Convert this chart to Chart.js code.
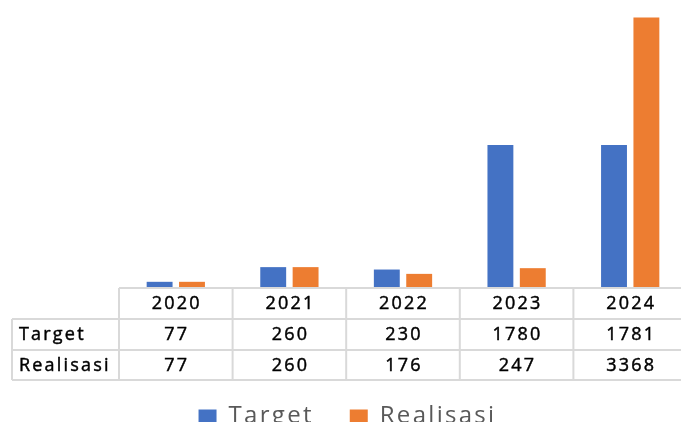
<!DOCTYPE html>
<html>
<head>
<meta charset="utf-8">
<script src="https://cdn.jsdelivr.net/npm/chart.js@4.4.1/dist/chart.umd.min.js"></script>
<style>
  html, body { margin: 0; padding: 0; background: #fff; overflow: hidden; }
  #wrap { position: absolute; left: 0; top: 0; width: 687px; height: 438px; }
</style>
</head>
<body>
<div id="wrap"><canvas id="c"></canvas></div>
<script>
const categories = ['2020', '2021', '2022', '2023', '2024'];
const seriesNames = ['Target', 'Realisasi'];
const targetValues = [77, 260, 230, 1780, 1781];
const realisasiValues = [77, 260, 176, 247, 3368];
const yMax = 3500;

const tablePlugin = {
  id: 'dataTable',
  beforeLayout(chart) { chart.ctx.letterSpacing = '2.3px'; },
  beforeDraw(chart) { chart.ctx.letterSpacing = '2.3px'; },
  afterDraw(chart) {
    const ctx = chart.ctx;
    const xs = chart.scales.x;
    const area = chart.chartArea;
    const n = categories.length;
    const cw = (xs.right - xs.left) / n;
    const y0 = area.bottom, y1 = y0 + 31, y2 = y0 + 62, y3 = y0 + 92;
    const labelLeft = 12;
    ctx.save();
    ctx.strokeStyle = '#d9d9d9';
    ctx.lineWidth = 2;
    ctx.beginPath();
    ctx.moveTo(xs.left, y0); ctx.lineTo(xs.right, y0);
    [y1, y2, y3].forEach(y => { ctx.moveTo(labelLeft, y); ctx.lineTo(xs.right, y); });
    ctx.moveTo(labelLeft, y1); ctx.lineTo(labelLeft, y3);
    for (let i = 0; i <= n; i++) {
      const x = xs.left + i * cw;
      ctx.moveTo(x, y0); ctx.lineTo(x, y3);
    }
    ctx.stroke();

    ctx.letterSpacing = '2.2px';
    ctx.font = '18px "Open Sans"';
    ctx.fillStyle = '#000';
    ctx.strokeStyle = '#000';
    ctx.lineWidth = 0.45;
    ctx.textBaseline = 'middle';
    ctx.textAlign = 'center';
    const put = (t, x, y) => { ctx.fillText(t, x, y); ctx.strokeText(t, x, y); };
    const rows = [targetValues, realisasiValues];
    categories.forEach((c, i) => {
      const cx = xs.getPixelForValue(i) + 1;
      put(c, cx, (y0 + y1) / 2);
      put(String(rows[0][i]), cx, (y1 + y2) / 2);
      put(String(rows[1][i]), cx, (y2 + y3) / 2 + 1);
    });
    ctx.textAlign = 'left';
    put(seriesNames[0], 19, (y1 + y2) / 2);
    put(seriesNames[1], 19, (y2 + y3) / 2 + 1);
    ctx.restore();
  }
};

new Chart(document.getElementById('c'), {
  type: 'bar',
  data: {
    labels: categories,
    datasets: [
      { label: seriesNames[0], data: targetValues, backgroundColor: '#4472C4', borderWidth: 0 },
      { label: seriesNames[1], data: realisasiValues, backgroundColor: '#ED7D31', borderWidth: 0 }
    ]
  },
  options: {
    responsive: true,
    maintainAspectRatio: false,
    animation: false,
    devicePixelRatio: 1,
    categoryPercentage: 0.57,
    barPercentage: 0.8,
    layout: { padding: { top: 7, left: 8, right: 0, bottom: 0 } },
    scales: {
      x: {
        grid: { display: false }, border: { display: false },
        ticks: { display: false },
        afterFit(s) { s.height = 80; }
      },
      y: {
        min: 0, max: yMax,
        grid: { display: false }, border: { display: false },
        ticks: { display: false },
        afterFit(s) { s.width = 111; }
      }
    },
    plugins: {
      tooltip: { enabled: false },
      legend: {
        position: 'bottom',
        labels: {
          color: '#595959',
          font: { family: '"Open Sans"', size: 24 },
          boxWidth: 18,
          boxHeight: 13,
          padding: 36
        }
      }
    }
  },
  plugins: [tablePlugin]
});
</script>
</body>
</html>
